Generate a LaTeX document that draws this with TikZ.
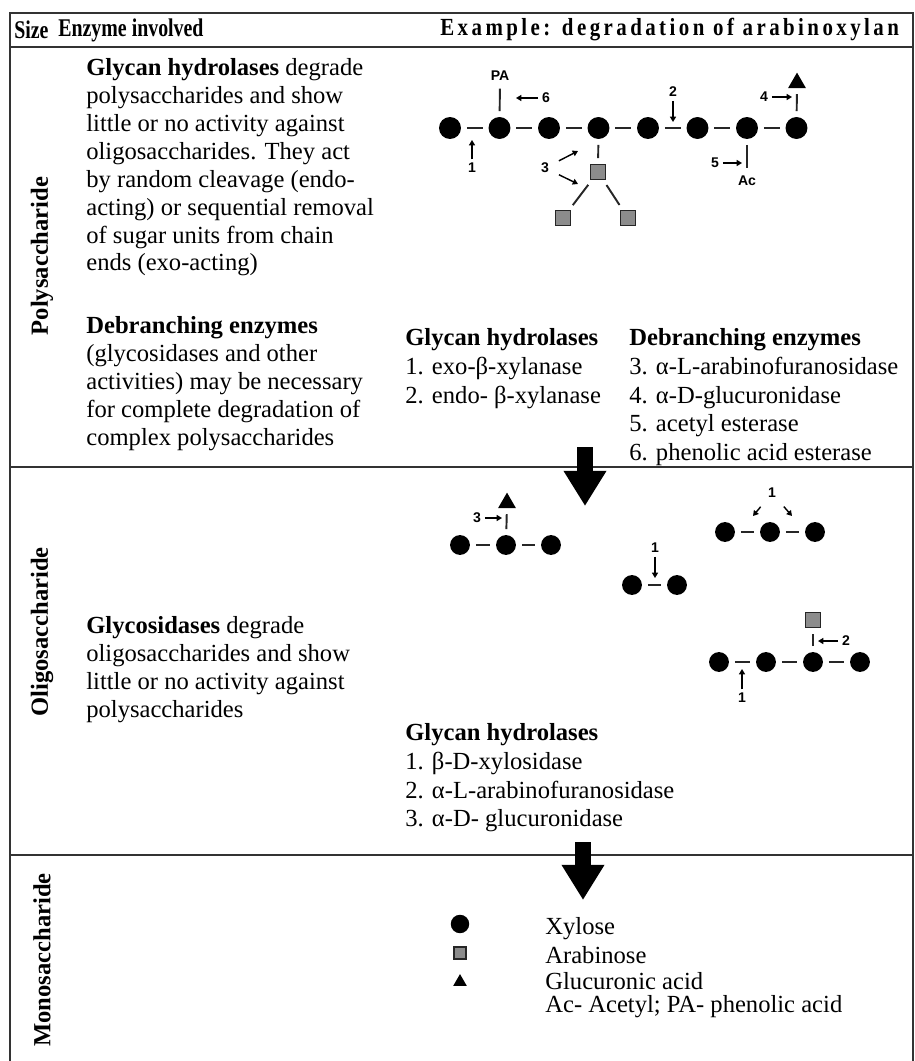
\documentclass[tikz,border=0pt]{standalone}
\usepackage{fontspec}
\setmainfont{Liberation Serif}
\newfontfamily\labelfont{Liberation Sans}
\newfontfamily\hdrfont[FakeStretch=0.78]{Liberation Serif}
\newfontfamily\widefont[FakeStretch=0.85, LetterSpace=14]{Liberation Serif}
\usetikzlibrary{positioning,calc,arrows.meta,shapes.geometric}

\begin{document}
\begin{tikzpicture}[x=0.02cm, y=-0.02cm]
\tikzstyle{tabline} = [black!80, line width=1.1pt];
\tikzstyle{txt} = [anchor=north west, inner sep=0pt, align=left, font=\fontsize{14}{15.9}\selectfont];
\tikzstyle{lst} = [txt, font=\fontsize{14}{16.4}\selectfont];
\tikzstyle{hdr} = [anchor=west, inner sep=0pt, font=\hdrfont\fontsize{14.5}{16}\selectfont\bfseries];
\tikzstyle{rowlbl} = [rotate=90, inner sep=0pt, font=\fontsize{14}{16}\selectfont\bfseries];
\tikzstyle{xyl} = [circle, fill=black, inner sep=0pt, minimum size=12.5pt];
\tikzstyle{xylo} = [xyl, minimum size=11.3pt];
\tikzstyle{ara} = [rectangle, draw=black!85, fill=black!45, line width=0.9pt, inner sep=0pt, minimum size=8.6pt];
\tikzstyle{glc} = [regular polygon, regular polygon sides=3, fill=black, inner sep=0pt, minimum size=11.8pt];
\tikzstyle{bond} = [black!85, line width=1.1pt, shorten <=3.2pt, shorten >=3.2pt];
\tikzstyle{cut} = [-{Triangle[length=3pt,width=3.4pt]}, line width=0.8pt, shorten <=1pt];
\tikzstyle{cutfar} = [cut, shorten <=5pt];
\tikzstyle{num} = [inner sep=1pt, font=\labelfont\bfseries\fontsize{8}{9}\selectfont];
\tikzstyle{flow} = [-{Triangle[length=20pt,width=23pt]}, line width=9pt];
\tikzstyle{leg} = [anchor=west, inner sep=0pt, font=\fontsize{14}{16}\selectfont];

\useasboundingbox (0,0) rectangle (915,1061);

% table
\draw[tabline] (10,1061) -- (10,13) -- (913,13) -- (913,1061);
\foreach \y in {47,467,855}
    \draw[tabline] (10,\y) -- (913,\y);

\node[hdr] (hsize) at (14,30) {Size};
\node[hdr] (henz) at (58,30) {Enzyme involved};
\node[hdr, font=\widefont\fontsize{14}{16}\selectfont\bfseries] (hex) at (440,30) {Example: degradation of arabinoxylan};

\node[rowlbl] (lpoly) at (42,256) {Polysaccharide};
\node[rowlbl] (loligo) at (42,632) {Oligosaccharide};
\node[rowlbl] (lmono) at (42,960) {Monosaccharide};

% polysaccharide row
\node[txt] (tgh) at (86,58) {\textbf{Glycan hydrolases} degrade\\
polysaccharides and show\\
little or no activity against\\
oligosaccharides. They act\\
by random cleavage (endo-\\
acting) or sequential removal\\
of sugar units from chain\\
ends (exo-acting)};
\node[txt] (tdb) at (86,316) {\textbf{Debranching enzymes}\\
(glycosidases and other\\
activities) may be necessary\\
for complete degradation of\\
complex polysaccharides};
\node[lst] (lgh) at (405,328) {\textbf{Glycan hydrolases}\\
1. exo-β-xylanase\\
2. endo- β-xylanase};
\node[lst] (ldb) at (629,328) {\textbf{Debranching enzymes}\\
3. α-L-arabinofuranosidase\\
4. α-D-glucuronidase\\
5. acetyl esterase\\
6. phenolic acid esterase};

\foreach \i in {1,...,8}
    \node[xyl] (p\i) at ({450+49.5*(\i-1)},128) {};
\foreach \i [count=\j from 2] in {1,...,7}
    \draw[bond] (p\i) -- (p\j);

\node[ara] (a1) at (598,172) {};
\node[ara] (a2) at (563,218) {};
\node[ara] (a3) at (628,218) {};
\draw[bond] (p4) -- (a1);
\draw[bond] (a1) -- (a2);
\draw[bond] (a1) -- (a3);

\node[num] (pa) at (500,76) {PA};
\draw[bond] (p2) -- (pa);
\node[glc] (g1) at (797,83) {};
\draw[bond] (p8) -- (g1);
\node[num] (ac) at (747,181) {Ac};
\draw[bond] (p7) -- (ac);

\node[num] (n1) at (472,168) {1};
\coordinate (c1) at (472,140);
\draw[cut] (n1) -- (c1);
\node[num] (n2) at (673,92) {2};
\coordinate (c2) at (673,122);
\draw[cut] (n2) -- (c2);
\node[num] (n3) at (545,168) {3};
\coordinate (c3a) at (578,151);
\coordinate (c3b) at (578,184);
\draw[cutfar] (n3) -- (c3a);
\draw[cutfar] (n3) -- (c3b);
\node[num] (n4) at (764,97) {4};
\coordinate (c4) at (792,97);
\draw[cut] (n4) -- (c4);
\node[num] (n5) at (715,163) {5};
\coordinate (c5) at (742,163);
\draw[cut] (n5) -- (c5);
\node[num] (n6) at (546,98) {6};
\coordinate (c6) at (516,98);
\draw[cut] (n6) -- (c6);

\coordinate (f1s) at (585,447);
\coordinate (f1e) at (585,506);
\draw[flow] (f1s) -- (f1e);

% oligosaccharide row
\node[txt] (tgs) at (86,616) {\textbf{Glycosidases} degrade\\
oligosaccharides and show\\
little or no activity against\\
polysaccharides};
\node[lst] (lgo) at (405,723) {\textbf{Glycan hydrolases}\\
1. β-D-xylosidase\\
2. α-L-arabinofuranosidase\\
3. α-D- glucuronidase};

\foreach \i/\x in {1/460,2/506,3/551}
    \node[xylo] (oa\i) at (\x,545) {};
\draw[bond] (oa1) -- (oa2);
\draw[bond] (oa2) -- (oa3);
\node[glc] (ga) at (507,503) {};
\draw[bond] (oa2) -- (ga);
\node[num] (m3) at (477,518) {3};
\coordinate (d3) at (502,518);
\draw[cut] (m3) -- (d3);

\foreach \i/\x in {1/725,2/770,3/815}
    \node[xylo] (ob\i) at (\x,532) {};
\draw[bond] (ob1) -- (ob2);
\draw[bond] (ob2) -- (ob3);
\node[num] (m1b) at (772,493) {1};
\coordinate (d1l) at (753,516);
\coordinate (d1r) at (792,516);
\draw[cutfar] (m1b) -- (d1l);
\draw[cutfar] (m1b) -- (d1r);

\foreach \i/\x in {1/632,2/677}
    \node[xylo] (oc\i) at (\x,585) {};
\draw[bond] (oc1) -- (oc2);
\node[num] (m1c) at (655,548) {1};
\coordinate (d1c) at (655,578);
\draw[cut] (m1c) -- (d1c);

\foreach \i/\x in {1/719,2/766,3/813,4/860}
    \node[xylo] (od\i) at (\x,662) {};
\foreach \i [count=\j from 2] in {1,2,3}
    \draw[bond] (od\i) -- (od\j);
\node[ara] (ad) at (813,620) {};
\draw[bond] (od3) -- (ad);
\node[num] (m2d) at (846,641) {2};
\coordinate (d2d) at (818,641);
\draw[cut] (m2d) -- (d2d);
\node[num] (m1d) at (742,698) {1};
\coordinate (d1d) at (742,669);
\draw[cut] (m1d) -- (d1d);

\coordinate (f2s) at (583,842);
\coordinate (f2e) at (583,900);
\draw[flow] (f2s) -- (f2e);

% monosaccharide row
\node[xyl, minimum size=10.5pt] (kx) at (460,924) {};
\node[ara, minimum size=7pt] (ka) at (460,953) {};
\node[glc, minimum size=9pt] (kg) at (460,982) {};
\node[leg] (tx) at (545,929) {Xylose};
\node[leg] (ta) at (545,955) {Arabinose};
\node[leg] (tg) at (545,981) {Glucuronic acid};
\node[leg] (tac) at (545,1007) {Ac- Acetyl; PA- phenolic acid};
\end{tikzpicture}
\end{document}
